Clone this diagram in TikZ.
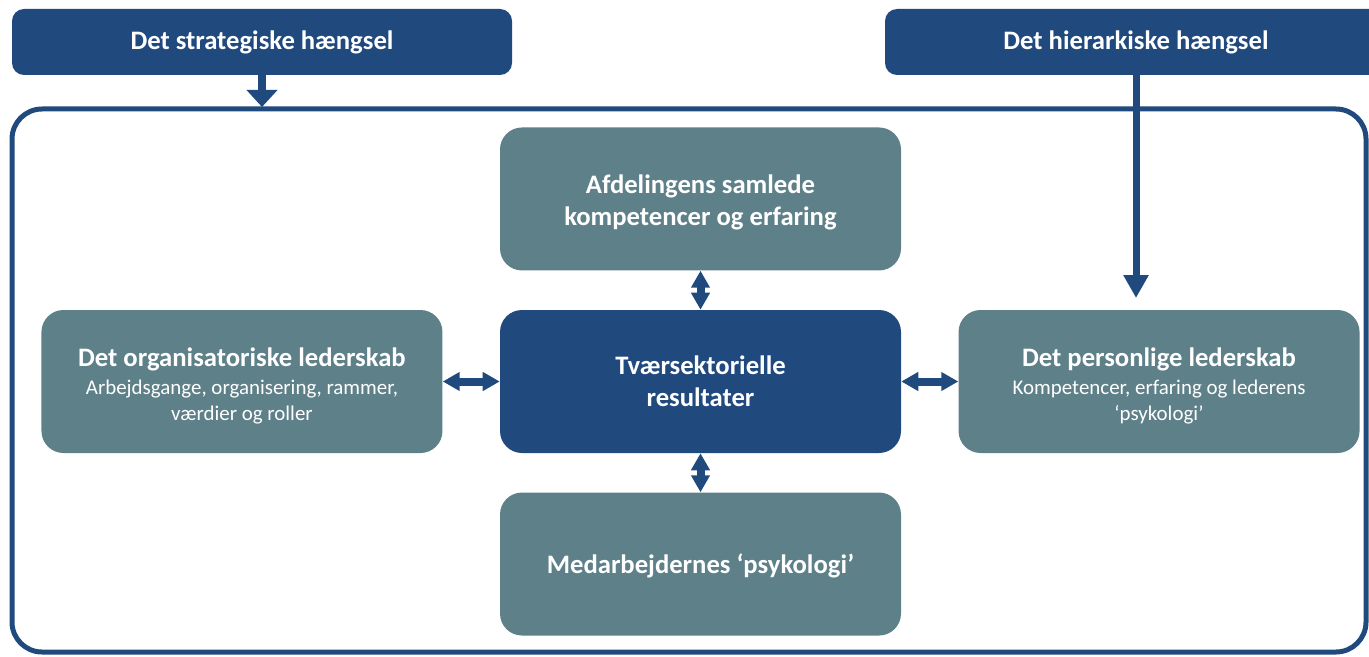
\documentclass[tikz,border=0pt]{standalone}
\usepackage{fontspec}
\setmainfont{Carlito}
\usetikzlibrary{positioning,arrows.meta}
\definecolor{hingeblue}{RGB}{32,73,125}
\definecolor{slategray}{RGB}{94,128,137}
\tikzstyle{box} = [rounded corners=16.5pt, minimum width=300.75pt, minimum height=107.25pt, text=white, align=center, inner sep=0pt]
\newcommand{\headtxt}{\fontsize{20}{24}\selectfont\bfseries}
\newcommand{\subtxt}{\fontsize{15.7}{19.5}\selectfont\mdseries}

\begin{document}
\begin{tikzpicture}[x=0.75pt,y=-0.75pt,
			area/.style={box,fill=slategray},
			core/.style={box,fill=hingeblue},
			hinge/.style={fill=hingeblue,rounded corners=9pt,minimum width=375pt,minimum height=49.5pt,text=white,inner sep=0pt,font=\headtxt},
			twoway/.style={draw=hingeblue,line width=6pt,{Triangle[length=12.75pt,width=13.5pt]}-{Triangle[length=12.75pt,width=13.5pt]}},
			stratway/.style={draw=hingeblue,line width=6pt,-{Triangle[length=12.75pt,width=22.5pt]}},
			hierway/.style={draw=hingeblue,line width=5.25pt,-{Triangle[length=17.25pt,width=18pt]}}]
			\useasboundingbox (0,0) rectangle (1369,656);
			% hinges on top
			\node (strat)[hinge] at (262,42) {Det strategiske hængsel};
			\node (hier)[hinge,minimum width=376.5pt] at (1136,42) {Det hierarkiske hængsel};
			% frame
			\draw[hingeblue,line width=3.75pt,rounded corners=22.5pt] (12,109) rectangle (1366,652);
			% the cross of boxes
			\node (result)[core,font=\headtxt] at (700.5,381.5) {Tværsektorielle\\resultater};
			\node (skills)[area,font=\headtxt,above=29.25pt of result] {\rule{0pt}{19pt}Afdelingens samlede\\kompetencer og erfaring};
			\node (staff)[area,font=\headtxt,below=29.25pt of result] {\rule{0pt}{17pt}Medarbejdernes ‘psykologi’};
			\node (org)[area,font=\subtxt,left=42.75pt of result] {{\headtxt\rule{0pt}{20pt}Det organisatoriske lederskab}\\[1.5pt]Arbejdsgange, organisering, rammer,\\værdier og roller};
			\node (pers)[area,font=\subtxt,right=42.75pt of result] {{\headtxt\rule{0pt}{20pt}Det personlige lederskab}\\[1.5pt]Kompetencer, erfaring og lederens\\‘psykologi’};
			\coordinate (stratend) at (262,107);
			\coordinate (hierend) at (1136,298);
			\draw[twoway] (org) -- (result);
			\draw[twoway] (result) -- (pers);
			\draw[twoway] (skills) -- (result);
			\draw[twoway] (result) -- (staff);
			\draw[stratway] (strat) -- (stratend);
			\draw[hierway] (hier) -- (hierend);
		\end{tikzpicture}
\end{document}
